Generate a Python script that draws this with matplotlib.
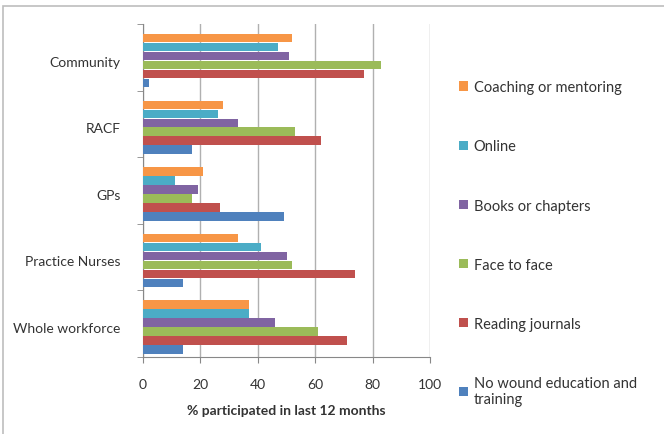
import matplotlib.pyplot as plt
import numpy as np
from matplotlib.patches import Rectangle

plt.rcParams['font.family'] = ['Lato', 'DejaVu Sans']

# groups, top to bottom as shown
groups = ['Community', 'RACF', 'GPs', 'Practice Nurses', 'Whole workforce']

# % participated per group, one list per activity
coaching = [52, 28, 21, 33, 37]
online = [47, 26, 11, 41, 37]
books = [51, 33, 19, 50, 46]
face_to_face = [83, 53, 17, 52, 61]
journals = [77, 62, 27, 74, 71]
no_training = [2, 17, 49, 14, 14]

series = [
    ('Coaching or mentoring', coaching, '#F79646'),
    ('Online', online, '#4BACC6'),
    ('Books or chapters', books, '#8064A2'),
    ('Face to face', face_to_face, '#9BBB59'),
    ('Reading journals', journals, '#C0504D'),
    ('No wound education and\ntraining', no_training, '#4F81BD'),
]

fig = plt.figure(figsize=(6.64, 4.35), dpi=100)
ax = fig.add_axes([143 / 664, 1 - 358 / 435, 287 / 664, 333 / 435])

# outer chart border
fig.patches.append(Rectangle((3 / 664, -0.1), 1.2, 1.1 - 7 / 435,
                             transform=fig.transFigure, fill=False,
                             edgecolor='#bdbdbd', linewidth=1.2))

n = len(groups)
y = np.arange(n)[::-1].astype(float)
bh = 0.135
shift = 0.05
for i, (label, vals, color) in enumerate(series):
    offset = (i - 2.5) * bh
    ax.barh(y - offset - shift, vals, height=bh * 0.94, color=color,
            label=label, zorder=3)

ax.set_xlim(0, 100)
ax.set_ylim(-0.5, n - 0.5)
ax.set_xticks(range(0, 101, 20))
ax.set_yticks(y - shift)
ax.set_yticklabels(groups, fontsize=10, color='#333333')
ax.tick_params(axis='y', length=0, pad=16)
ax.set_yticks(np.arange(-0.5, n, 1), minor=True)
ax.tick_params(axis='y', which='minor', length=4, color='#888888')
ax.tick_params(axis='x', length=4, color='#888888', labelsize=10,
               labelcolor='#333333', pad=11)
ax.grid(axis='x', color='#b0b0b0', linewidth=1, zorder=0)
for s in ['top', 'right']:
    ax.spines[s].set_visible(False)
for s in ['left', 'bottom']:
    ax.spines[s].set_color('#888888')
ax.set_xlabel('% participated in last 12 months', fontsize=10,
              fontweight='bold', color='#333333', labelpad=10)

ax.legend(loc='upper left', bbox_to_anchor=(446 / 664, 1 - 68 / 435),
          bbox_transform=fig.transFigure, frameon=False, fontsize=10.5,
          handlelength=0.6, handleheight=0.6, handletextpad=0.4,
          labelspacing=3.1, labelcolor='#333333')

plt.savefig('out.png', dpi=100)
